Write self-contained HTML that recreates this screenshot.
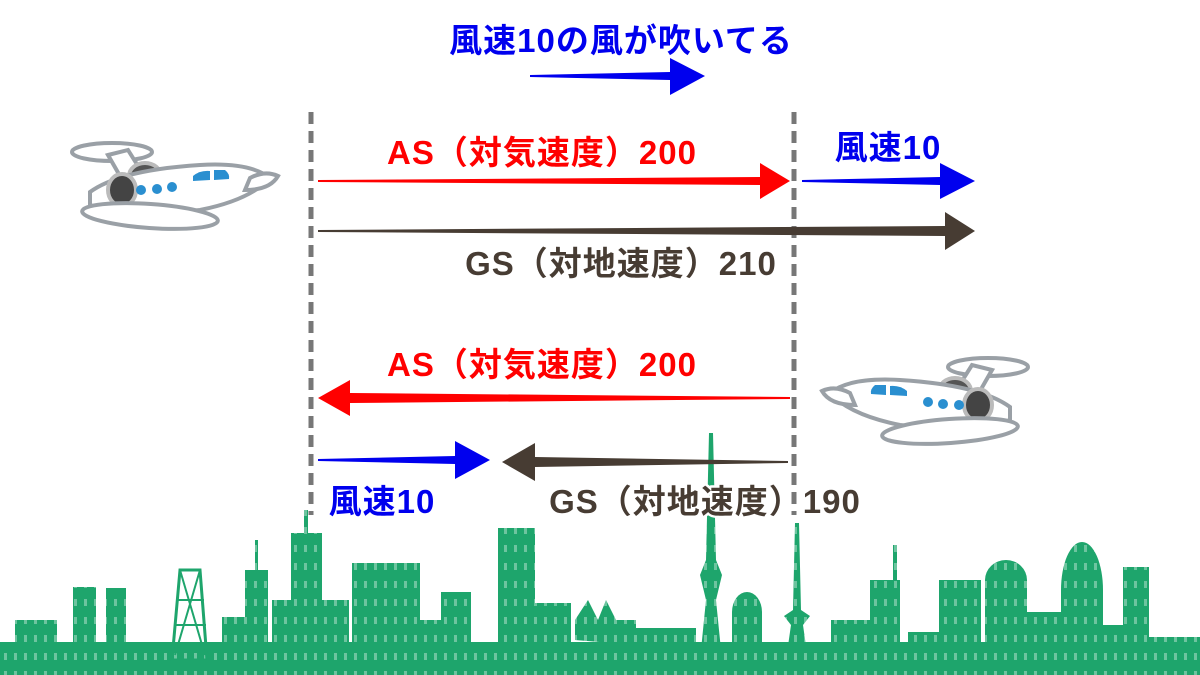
<!DOCTYPE html>
<html><head><meta charset="utf-8"><style>
html,body{margin:0;padding:0;background:#fff;}
svg{display:block;}
text{font-family:"Liberation Sans","Noto Sans CJK JP",sans-serif;font-weight:bold;paint-order:stroke;stroke:#fff;stroke-width:5px;stroke-linejoin:round;}
</style></head><body>
<svg width="1200" height="675" viewBox="0 0 1200 675" xmlns="http://www.w3.org/2000/svg">
<defs>
<pattern id="win" x="0" y="0" width="10" height="18" patternUnits="userSpaceOnUse">
  <rect x="4" y="5" width="3" height="7" fill="#fff"/>
</pattern>
<g id="city">
  <rect x="0" y="642" width="1200" height="33"/>
  <rect x="15" y="620" width="42" height="40"/>
  <rect x="73" y="587" width="23" height="70"/>
  <rect x="106" y="588" width="20" height="70"/>
  <rect x="222" y="617" width="31" height="40"/>
  <rect x="245" y="570" width="23" height="90"/>
  <rect x="255" y="540" width="3" height="35"/>
  <rect x="291" y="533" width="31" height="125"/>
  <rect x="304" y="510" width="4" height="30"/>
  <rect x="272" y="600" width="77" height="60"/>
  <rect x="352" y="563" width="68" height="95"/>
  <rect x="420" y="620" width="21" height="40"/>
  <rect x="441" y="592" width="30" height="65"/>
  <rect x="498" y="528" width="37" height="130"/>
  <rect x="535" y="603" width="36" height="55"/>
  <path d="M575 640 L575 620 L588 600 L598 620 L606 600 L616 620 L636 620 L636 645 Z"/>
  <rect x="636" y="628" width="60" height="20"/>
  <path d="M709 433 L713 433 L716 560 L722 575 L716 600 L722 660 L700 660 L706 600 L700 575 L706 560 Z"/>
  <ellipse cx="747" cy="612" rx="15" ry="20"/>
  <rect x="732" y="612" width="30" height="40"/>
  <path d="M795 523 L799 523 L801 610 L810 616 L803 625 L808 660 L786 660 L791 625 L784 616 L793 610 Z"/>
  <rect x="831" y="620" width="39" height="30"/>
  <rect x="870" y="580" width="30" height="75"/>
  <rect x="893" y="545" width="4" height="40"/>
  <rect x="908" y="632" width="35" height="25"/>
  <rect x="939" y="580" width="42" height="75"/>
  <ellipse cx="1006" cy="580" rx="21" ry="20"/>
  <rect x="985" y="580" width="42" height="75"/>
  <rect x="1027" y="612" width="34" height="40"/>
  <ellipse cx="1082" cy="590" rx="21" ry="48"/>
  <rect x="1061" y="590" width="42" height="65"/>
  <rect x="1103" y="625" width="20" height="30"/>
  <rect x="1123" y="567" width="26" height="90"/>
  <rect x="1149" y="637" width="51" height="20"/>
</g>
<g id="plane">
  <ellipse cx="112" cy="152" rx="40" ry="9" fill="#fff" stroke="#9aa0a6" stroke-width="4"/>
  <path d="M108 155 L128 150 L150 185 L128 190 Z" fill="#fff" stroke="#9aa0a6" stroke-width="4"/>
  <ellipse cx="145" cy="176" rx="16" ry="13" fill="#555" stroke="#bbb" stroke-width="4"/>
  <path d="M90 192 Q120 170 200 165 Q250 162 270 178 Q250 200 200 210 Q120 218 90 205 Z" fill="#fff" stroke="#9aa0a6" stroke-width="4"/>
  <path d="M250 178 Q265 170 278 176 Q270 190 245 190 Z" fill="#fff" stroke="#9aa0a6" stroke-width="4"/>
  <ellipse cx="122" cy="190" rx="14" ry="16" fill="#444" stroke="#bbb" stroke-width="4"/>
  <ellipse cx="150" cy="216" rx="68" ry="12" fill="#fff" stroke="#9aa0a6" stroke-width="4" transform="rotate(4 150 216)"/>
  <circle cx="141" cy="190" r="5" fill="#2a8fd0"/>
  <circle cx="157" cy="189" r="5" fill="#2a8fd0"/>
  <circle cx="172" cy="187" r="5" fill="#2a8fd0"/>
  <path d="M193 176 Q200 170 210 171 L210 180 L193 181 Z" fill="#2a8fd0"/>
  <path d="M214 170 L225 170 Q230 174 229 179 L214 180 Z" fill="#2a8fd0"/>
</g>
</defs>

<use href="#city" fill="#1ea56c"/>
<use href="#city" fill="url(#win)" opacity="0.35"/>
<path d="M180 570 L200 570 L207 660 L172 660 Z" fill="none" stroke="#1ea56c" stroke-width="3"/>
<path d="M176 600 L204 600 M174 625 L206 625 M180 570 L205 655 M200 570 L175 655" stroke="#1ea56c" stroke-width="2"/>

<line x1="311" y1="112" x2="311" y2="515" stroke="#777" stroke-width="5" stroke-dasharray="12 7"/>
<line x1="794" y1="112" x2="794" y2="515" stroke="#777" stroke-width="5" stroke-dasharray="12 7"/>

<path d="M530 75 L670 72 L670 58 L705 76 L670 95 L670 80 L530 77 Z" fill="#0000ee"/>
<text x="621" y="52" font-size="33" letter-spacing="1" text-anchor="middle" fill="#0000ee">風速10の風が吹いてる</text>

<text x="542" y="164" font-size="33" letter-spacing="1" text-anchor="middle" fill="#ff0000">AS（対気速度）200</text>
<path d="M318 180 L760 177 L760 163 L790 181 L760 199 L760 185 L318 182 Z" fill="#ff0000"/>
<text x="888" y="159" font-size="33" letter-spacing="1" text-anchor="middle" fill="#0000ee">風速10</text>
<path d="M802 180 L940 177 L940 163 L975 181 L940 199 L940 185 L802 182 Z" fill="#0000ee"/>
<path d="M318 230 L945 226 L945 212 L975 231 L945 250 L945 236 L318 232 Z" fill="#473c33"/>
<text x="621" y="275" font-size="33" letter-spacing="1" text-anchor="middle" fill="#473c33">GS（対地速度）210</text>

<text x="542" y="376" font-size="33" letter-spacing="1" text-anchor="middle" fill="#ff0000">AS（対気速度）200</text>
<path d="M790 397 L350 393 L350 380 L318 398 L350 416 L350 403 L790 399 Z" fill="#ff0000"/>
<path d="M318 459 L455 456 L455 441 L490 460 L455 479 L455 464 L318 461 Z" fill="#0000ee"/>
<path d="M788 461 L535 457 L535 443 L502 462 L535 481 L535 467 L788 463 Z" fill="#473c33"/>
<text x="382" y="513" font-size="33" letter-spacing="1" text-anchor="middle" fill="#0000ee">風速10</text>
<text x="705" y="513" font-size="33" letter-spacing="1" text-anchor="middle" fill="#473c33">GS（対地速度）190</text>

<use href="#plane"/>
<g transform="translate(1100,215) scale(-1,1)"><use href="#plane"/></g>
</svg>
</body></html>
